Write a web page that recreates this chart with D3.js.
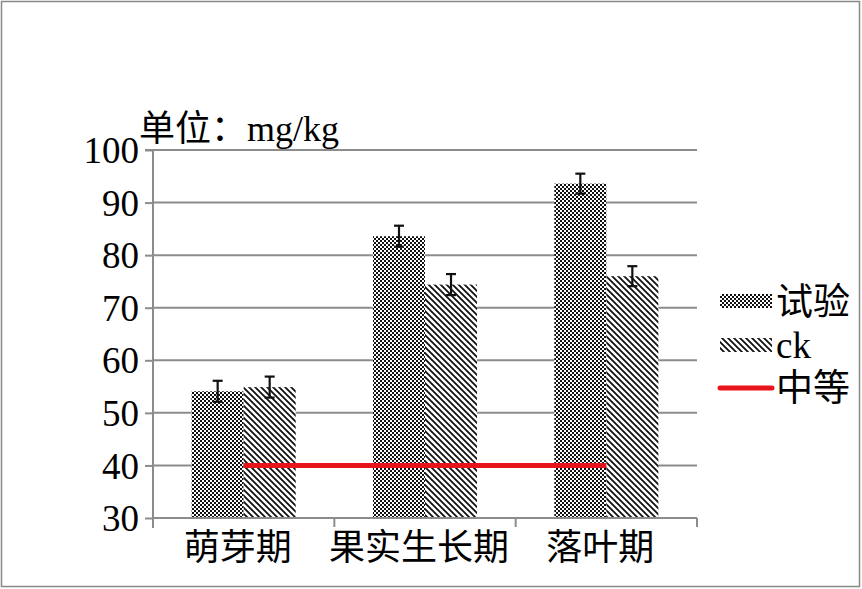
<!DOCTYPE html>
<html><head><meta charset="utf-8">
<script src="https://cdn.jsdelivr.net/npm/d3@7"></script>
<style>body{margin:0;background:#fff}svg{display:block}</style>
</head><body>
<svg id="c" width="862" height="589"></svg>
<script>
const categories = ["萌芽期", "果实生长期", "落叶期"];
const seriesNames = ["试验", "ck"];
const trialValues = [54.1, 83.6, 93.6];
const trialErrors = [2.0, 2.0, 1.9];
const ckValues = [54.9, 74.4, 76.0];
const ckErrors = [2.0, 2.0, 1.9];
const mediumLevel = 40;
const yTicks = [30, 40, 50, 60, 70, 80, 90, 100];
const unitLabel = "单位：mg/kg";
const mediumName = "中等";

const svg = d3.select("#c");
const serif = "'Liberation Serif','Times New Roman','Noto Sans CJK SC',serif";
const defs = svg.append("defs");
// checker pattern
const pc = defs.append("pattern").attr("id","checker").attr("patternUnits","userSpaceOnUse").attr("width",4).attr("height",4);
pc.append("rect").attr("width",4).attr("height",4).attr("fill","#fff");
pc.append("rect").attr("width",2).attr("height",2).attr("fill","#111").attr("shape-rendering","crispEdges");
pc.append("rect").attr("x",2).attr("y",2).attr("width",2).attr("height",2).attr("fill","#111").attr("shape-rendering","crispEdges");
// hatch pattern "\"
const ph = defs.append("pattern").attr("id","hatch").attr("patternUnits","userSpaceOnUse").attr("width",6).attr("height",6);
ph.append("rect").attr("width",6).attr("height",6).attr("fill","#fff");
ph.append("path").attr("d","M-1,-1 L7,7 M-1,5 L1,7 M5,-1 L7,1").attr("stroke","#111").attr("stroke-width",1.8);

// outer border
svg.append("rect").attr("x",1.5).attr("y",1.5).attr("width",858).attr("height",585)
  .attr("fill","none").attr("stroke","#888").attr("stroke-width",1.5);

const L=153, R=697, T=150, B=518;
const y = d3.scaleLinear().domain([30,100]).range([B,T]);
const x0 = d3.scaleBand().domain(categories).range([L,R]).padding(0);
const x1 = d3.scaleBand().domain(seriesNames).range([0,x0.bandwidth()]).paddingInner(0).paddingOuter(0.743);

// gridlines
svg.append("g").selectAll("line").data(yTicks.slice(1)).join("line")
  .attr("x1",L).attr("x2",R).attr("y1",d=>y(d)).attr("y2",d=>y(d))
  .attr("stroke","#8c8c8c").attr("stroke-width",2);

// bars
const data = [];
categories.forEach((c,i)=>{
  data.push({c, s:"试验", v:trialValues[i], e:trialErrors[i], fill:"url(#checker)"});
  data.push({c, s:"ck", v:ckValues[i], e:ckErrors[i], fill:"url(#hatch)"});
});
svg.append("g").selectAll("rect").data(data).join("rect")
  .attr("x",d=>x0(d.c)+x1(d.s)).attr("width",x1.bandwidth())
  .attr("y",d=>y(d.v)).attr("height",d=>y(30)-y(d.v)).attr("fill",d=>d.fill);

// medium line
svg.append("line").attr("x1",x0(categories[0])+x0.bandwidth()/2).attr("x2",x0(categories[2])+x0.bandwidth()/2)
  .attr("y1",y(mediumLevel)).attr("y2",y(mediumLevel)).attr("stroke","#e8141b").attr("stroke-width",5);

// error bars
const eg = svg.append("g").attr("stroke","#111").attr("stroke-width",2.2);
data.forEach(d=>{
  const cx = x0(d.c)+x1(d.s)+x1.bandwidth()/2;
  eg.append("line").attr("x1",cx).attr("x2",cx).attr("y1",y(d.v+d.e)).attr("y2",y(d.v-d.e));
  eg.append("line").attr("x1",cx-5).attr("x2",cx+5).attr("y1",y(d.v+d.e)).attr("y2",y(d.v+d.e));
  eg.append("line").attr("x1",cx-5).attr("x2",cx+5).attr("y1",y(d.v-d.e)).attr("y2",y(d.v-d.e));
});

// y axis
const ya = svg.append("g").attr("transform",`translate(${L},0)`)
  .call(d3.axisLeft(y).tickValues(yTicks).tickSize(8).tickPadding(6).tickFormat(d3.format("d")));
ya.select(".domain").attr("stroke","#8c8c8c").attr("stroke-width",2).attr("d",`M-8,${T}H0V${B+10}`);
ya.selectAll(".tick line").attr("stroke","#8c8c8c").attr("stroke-width",2);
ya.selectAll(".tick text").attr("font-family",serif).attr("font-size",37).attr("fill","#000").attr("dy","0.34em");

// x axis
const xa = svg.append("g").attr("transform",`translate(0,${B})`)
  .call(d3.axisBottom(x0).tickSize(0).tickPadding(16));
xa.select(".domain").attr("stroke","#8c8c8c").attr("stroke-width",2).attr("d",`M${L},0H${R}`);
xa.selectAll(".tick text").attr("font-family",serif).attr("font-size",36).attr("fill","#000").attr("dy","0.71em").attr("dx",-6);
svg.append("g").selectAll("line").data([L, ...categories.map(c=>x0(c)+x0.bandwidth())]).join("line")
  .attr("x1",d=>d).attr("x2",d=>d).attr("y1",B).attr("y2",B+9).attr("stroke","#8c8c8c").attr("stroke-width",2);

// unit label
svg.append("text").attr("x",139).attr("y",141).attr("font-family",serif).attr("font-size",36).text(unitLabel);

// legend
const lg = svg.append("g");
lg.append("rect").attr("x",720).attr("y",294).attr("width",52).attr("height",14).attr("fill","url(#checker)");
lg.append("text").attr("x",776).attr("y",315).attr("font-family",serif).attr("font-size",37).text(seriesNames[0]);
lg.append("rect").attr("x",720).attr("y",338).attr("width",52).attr("height",14).attr("fill","url(#hatch)");
lg.append("text").attr("x",776).attr("y",358).attr("font-family",serif).attr("font-size",37).text(seriesNames[1]);
lg.append("line").attr("x1",720).attr("x2",772).attr("y1",388).attr("y2",388).attr("stroke","#e8141b").attr("stroke-width",5).attr("stroke-linecap","round");
lg.append("text").attr("x",776).attr("y",401).attr("font-family",serif).attr("font-size",37).text(mediumName);
</script>
</body></html>
